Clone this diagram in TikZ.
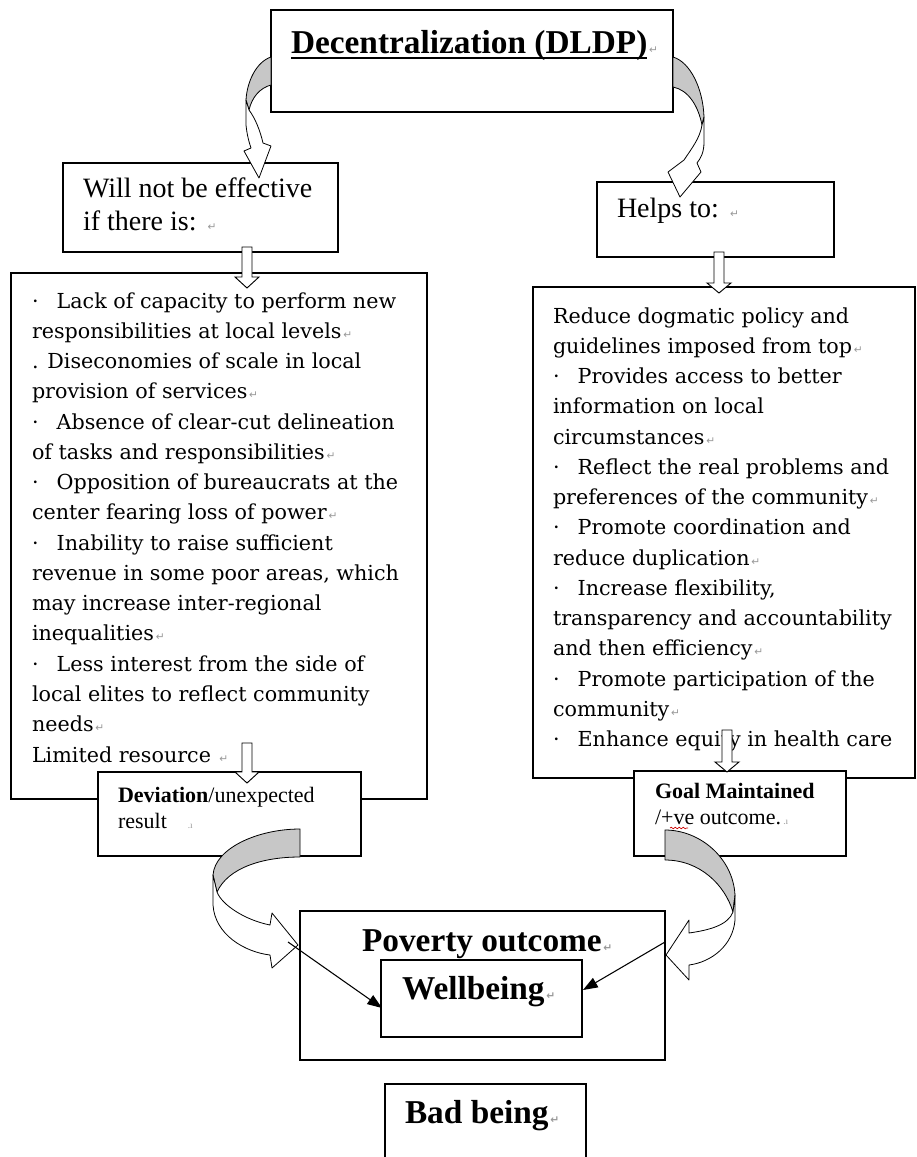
\documentclass[tikz,border=0pt]{standalone}
\usepackage{fontspec}
\setmainfont{Liberation Serif}
\newfontfamily\listfont{DejaVu Serif}
\newfontfamily\symfont{DejaVu Sans}
\usetikzlibrary{arrows.meta,fit,decorations.pathmorphing}
\newcommand{\pmk}{{\color{black!40}\symfont\fontsize{8}{8}\selectfont\,↵}}
\newcommand{\pdot}{{\color{black!40}\fontsize{7}{7}\selectfont\ .ı}}
\newcommand{\bul}{\makebox[18.5pt][l]{·}}
\newcommand{\linesblock}[1]{\vtop{\let\\\cr\halign{##\hfil\cr#1\crcr}}}
\newcommand{\hdown}[4]{\draw[hollow] ({#1-5},#2) -- ({#1+5},#2) -- ({#1+5},#3) -- ({#1+12},#3) -- (#1,#4) -- ({#1-12},#3) -- ({#1-5},#3) -- cycle;}
\begin{document}
\begin{tikzpicture}[x=0.75pt,y=-0.75pt,
 box/.style={draw, fill=white, line width=0.8pt, inner sep=0pt},
 hollow/.style={draw, fill=white, line width=0.7pt, line join=miter},
 cfront/.style={draw, fill=white, line width=0.6pt, line join=round},
 cback/.style={draw, fill=black!22, line width=0.6pt, line join=round},
 txt/.style={anchor=base west, inner sep=0pt, outer sep=0pt},
 listtxt/.style={txt, font=\listfont\fontsize{15.5}{22.7}\selectfont},
 headtxt/.style={txt, font=\fontsize{21}{24.75}\selectfont},
 smalltxt/.style={txt, font=\fontsize{16.5}{19.5}\selectfont},
 bigtxt/.style={txt, font=\bfseries\fontsize{25}{30}\selectfont},
 blk/.style={line width=0.8pt, -{Triangle[length=11pt,width=8pt]}}
]
\useasboundingbox (0,0) rectangle (917,1157);
\fill[white] (0,0) rectangle (917,1157);

% boxes
\node[box, fit={(271,10)(673,112)}] (top) {};
\node[box, fit={(63,163)(338,252)}] (will) {};
\node[box, fit={(597,182)(834,257)}] (helps) {};
\node[box, fit={(11,273)(427,799)}] (lbox) {};
\node[box, fit={(533,287)(915,778)}] (rbox) {};
\node[box, fit={(98,772)(361,856)}] (dev) {};
\node[box, fit={(634,771)(846,856)}] (goal) {};
\node[box, fit={(300,911)(665,1060)}] (pov) {};
\node[box, fit={(381,960)(582,1037)}] (well) {};
\node[box, fit={(385,1084)(586,1175)}] (bad) {};

% texts
\node[txt, font=\bfseries\fontsize{25}{28}\selectfont] (ttl) at (291,53) {Decentralization (DLDP)};
\node[txt] (ttlm) at (ttl.base east) {\pmk};
\draw[line width=1.5pt] ([yshift=-4pt]ttl.base west) -- ([yshift=-4pt]ttl.base east);

\node[headtxt] (willt) at (83,197) {\linesblock{Will not be effective\\if there is: \pmk}};
\node[headtxt] (helpst) at (617,217) {Helps to: \pmk};

\node[listtxt] (llist) at (32,308) {\linesblock{%
\bul Lack of capacity to perform new\\
responsibilities at local levels\pmk\\
. Diseconomies of scale in local\\
provision of services\pmk\\
\bul Absence of clear-cut delineation\\
of tasks and responsibilities\pmk\\
\bul Opposition of bureaucrats at the\\
center fearing loss of power\pmk\\
\bul Inability to raise sufficient\\
revenue in some poor areas, which\\
may increase inter-regional\\
inequalities\pmk\\
\bul Less interest from the side of\\
local elites to reflect community\\
needs\pmk\\
Limited resource \pmk}};

\node[listtxt] (rlist) at (553,323) {\linesblock{%
Reduce dogmatic policy and\\
guidelines imposed from top\pmk\\
\bul Provides access to better\\
information on local\\
circumstances\pmk\\
\bul Reflect the real problems and\\
preferences of the community\pmk\\
\bul Promote coordination and\\
reduce duplication\pmk\\
\bul Increase flexibility,\\
transparency and accountability\\
and then efficiency\pmk\\
\bul Promote participation of the\\
community\pmk\\
\bul Enhance equity in health care}};

\node[smalltxt] (devt) at (118,802) {\linesblock{\textbf{Deviation}/unexpected\\result\hspace{14pt}\pdot}};
\node[smalltxt] (goalt) at (655,798) {\linesblock{\textbf{Goal Maintained}\\/+ve outcome.\pdot}};
\draw[red!80!black, line width=0.5pt, decorate, decoration={snake, amplitude=0.6pt, segment length=3pt}] (670,828) -- (688,828);

\node[bigtxt] (povt) at (362,951) {Poverty outcome\pmk};
\node[bigtxt] (wellt) at (402,999) {Wellbeing\pmk};
\node[bigtxt] (badt) at (405,1123) {Bad being\pmk};

% hollow straight arrows
\hdown{247}{247}{277}{288}
\hdown{719}{252}{283}{293}
\hdown{247}{743}{772}{783}
\hdown{727}{730}{762}{772}

% curved arrow top-left
\draw[cback] (271,57) .. controls (256,62) and (247,82) .. (246,100) -- (249,110) .. controls (252,97) and (260,88) .. (271,85) -- cycle;
\draw[cfront] (246,100) -- (246,125) .. controls (247,135) and (249,142) .. (251,148) -- (244,151) -- (259,178) -- (271,146) -- (263,143) .. controls (260,130) and (255,118) .. (249,110) -- cycle;

% curved arrow top-right
\draw[cback] (673,57) .. controls (690,62) and (703,88) .. (704,117) -- (702,125) .. controls (698,105) and (688,90) .. (673,87) -- cycle;
\draw[cfront] (704,117) -- (704,142) .. controls (704,152) and (701,158) .. (697,163) -- (701,172) -- (680,197) -- (668,172) -- (684,160) .. controls (692,148) and (700,138) .. (702,125) -- cycle;

% curved arrow bottom-left
\draw[cback] (300,829) .. controls (258,829) and (215,848) .. (213,875) -- (217,892) .. controls (228,868) and (262,857) .. (300,857) -- cycle;
\draw[cfront] (213,875) -- (213,905) .. controls (215,935) and (245,952) .. (270,955) -- (272,968) -- (298,945) -- (272,913) -- (270,925) .. controls (245,920) and (222,905) .. (217,892) -- cycle;

% curved arrow bottom-right
\draw[cback] (665,830) .. controls (700,830) and (733,858) .. (735,895) -- (733,912) .. controls (725,885) and (700,860) .. (665,860) -- cycle;
\draw[cfront] (735,895) -- (735,920) .. controls (733,945) and (712,962) .. (689,965) -- (689,980) -- (666,955) -- (689,920) -- (689,933) .. controls (710,930) and (728,925) .. (733,912) -- cycle;

% black arrows
\coordinate (la) at (288,942);
\coordinate (lb) at (382,1008);
\coordinate (ra) at (665,942);
\coordinate (rb) at (583,990);
\draw[blk] (la) -- (lb);
\draw[blk] (ra) -- (rb);
\end{tikzpicture}
\end{document}
